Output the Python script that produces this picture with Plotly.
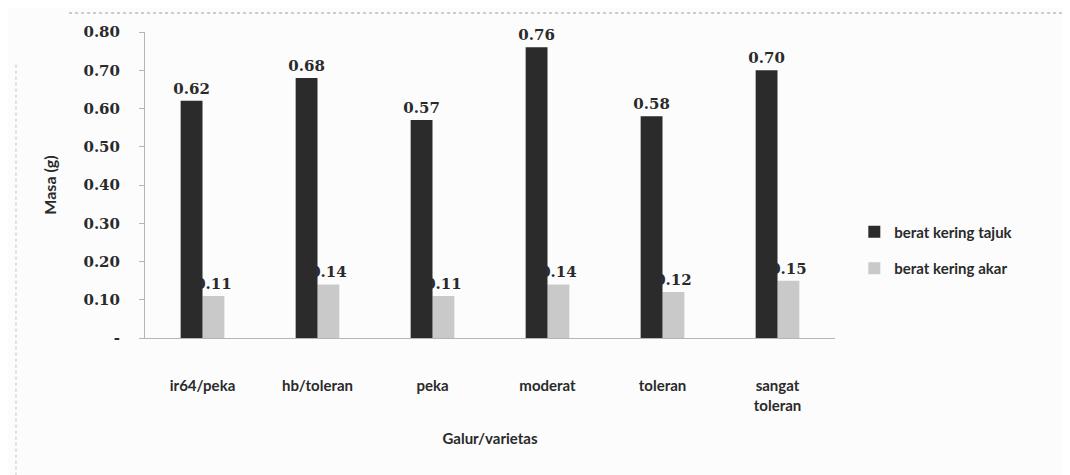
import plotly.graph_objects as go

categories = ["ir64/peka", "hb/toleran", "peka", "moderat", "toleran", "sangat<br>toleran"]
tajuk = [0.62, 0.68, 0.57, 0.76, 0.58, 0.70]
akar = [0.11, 0.14, 0.11, 0.14, 0.12, 0.15]
ytick_vals = [0, 0.1, 0.2, 0.3, 0.4, 0.5, 0.6, 0.7, 0.8]
ytick_text = ["-", "0.10", "0.20", "0.30", "0.40", "0.50", "0.60", "0.70", "0.80"]

serif = "DejaVu Serif"
sans = "Lato"
bw = 0.19

fig = go.Figure()
# light bars first so the dark bars overlap their labels as in the original
fig.add_trace(go.Bar(
    x=categories, y=akar, name="berat kering akar",
    width=bw, offset=0.0,
    marker=dict(color="#c9c9c9", line=dict(width=0)),
    text=[f"{v:.2f}" for v in akar], textposition="outside", constraintext="none",
    textfont=dict(family=serif, size=15, color="#2a2a2a", weight="bold"),
    cliponaxis=False, legendgroup="b", legendrank=2,
))
fig.add_trace(go.Bar(
    x=categories, y=tajuk, name="berat kering tajuk",
    width=bw, offset=-bw,
    marker=dict(color="#2b2b2b", line=dict(width=0)),
    text=[f"{v:.2f}" for v in tajuk], textposition="outside", constraintext="none",
    textfont=dict(family=serif, size=15, color="#2a2a2a", weight="bold"),
    cliponaxis=False, legendgroup="a", legendrank=1,
))

fig.update_layout(
    width=1070, height=475,
    margin=dict(l=137, r=243, t=24, b=145),
    paper_bgcolor="#fcfcfc", plot_bgcolor="#fcfcfc",
    barmode="overlay",
    showlegend=True,
    legend=dict(
        x=1.028, y=0.40, xanchor="left", yanchor="top",
        traceorder="grouped", tracegroupgap=14,
        font=dict(family=sans, size=15, color="#2a2a2a", weight="bold"),
        bgcolor="rgba(0,0,0,0)", itemwidth=30,
    ),
    xaxis=dict(
        showgrid=False, showline=True, linecolor="#b5b5b5", linewidth=1,
        ticks="", ticklabelstandoff=34,
        tickfont=dict(family=sans, size=15, color="#2a2a2a", weight="bold"),
        title=dict(text="<b>Galur/varietas</b>", font=dict(family=sans, size=15, color="#2a2a2a"), standoff=20),
    ),
    yaxis=dict(
        range=[0, 0.8], showgrid=False, showline=True, linecolor="#b5b5b5", linewidth=1,
        tickvals=ytick_vals, ticktext=ytick_text,
        ticks="outside", ticklen=5, tickcolor="#b5b5b5", ticklabelstandoff=16,
        tickfont=dict(family=serif, size=15, color="#2a2a2a", weight="bold"),
        title=dict(text="<b>Masa (g)</b>", font=dict(family=sans, size=16, color="#2a2a2a"), standoff=22),
        zeroline=False,
    ),
    shapes=[
        dict(type="line", xref="paper", yref="paper", x0=-0.11, x1=1.4, y0=1.062, y1=1.062,
             line=dict(color="#9a9a9a", width=1, dash="dot")),
        dict(type="line", xref="paper", yref="paper", x0=-0.187, x1=-0.187, y0=-0.45, y1=0.9,
             line=dict(color="#c0c0c0", width=1, dash="dot")),
    ],
)

fig.write_html("out.html")
